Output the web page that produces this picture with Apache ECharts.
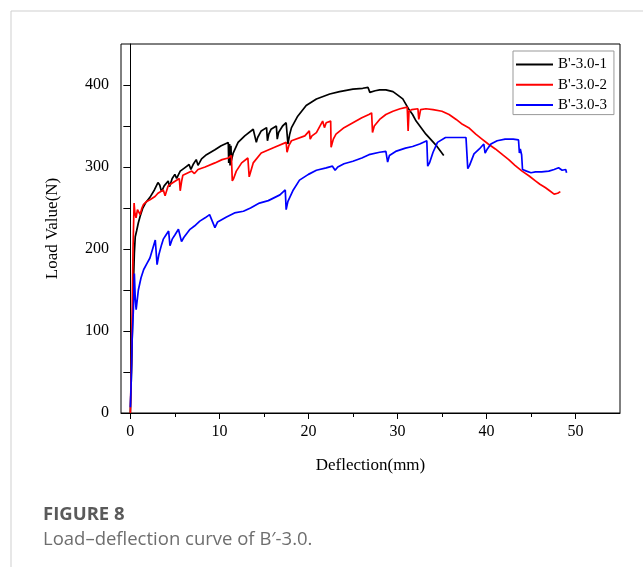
<!DOCTYPE html>
<html>
<head>
<meta charset="utf-8">
<script src="https://cdn.jsdelivr.net/npm/echarts@6/dist/echarts.min.js"></script>
<style>
  html, body { margin: 0; padding: 0; background: #fff; }
  #chart { width: 643px; height: 567px; }
</style>
</head>
<body>
<div id="chart"></div>
<script>
// series names
var seriesNames = ["B'-3.0-1", "B'-3.0-2", "B'-3.0-3"];

// [deflection (mm), load (N)]
var spec1 = [
  [0,0],[0.15,60],[0.3,140],[0.45,195],[0.55,215],[0.7,222],[0.9,232],[1.1,240],[1.4,250],[1.7,256],
  [2.2,263],[2.7,272],[3.1,281],[3.3,278],[3.5,270],[3.8,277],[4.25,283],[4.4,276],[4.7,286],[5.0,291],
  [5.2,286],[5.6,295],[6.1,299],[6.6,303],[6.8,297],[7.1,304],[7.4,309],[7.6,302],[8.0,310],[8.55,315],
  [9.5,321],[10.2,326],[11.0,330],[11.05,305],[11.15,328],[11.2,302],[11.3,326],[11.35,308],[11.55,317],[12.1,330],
  [12.85,338],[13.8,346],[14.15,330],[14.3,336],[14.7,344],[15.3,348],[15.4,332],[15.55,340],[15.8,346],[16.4,350],
  [16.5,334],[16.65,342],[17.1,350],[17.5,354],[17.7,328],[17.9,340],[18.1,348],[18.8,362],[19.75,375],[20.9,383],
  [22.4,389],[23.5,392],[25,395],[26.1,396],[26.7,397],[26.9,391],[27.1,390],[27.5,393],[28,394],[28.7,394],
  [29.5,392],[30.0,388],[30.6,383],[31.3,370],[31.7,364],[32.1,356],[33.2,340],[34.3,327],[35.2,314]
];
var spec2 = [
  [0,0],[0.1,50],[0.2,120],[0.3,200],[0.42,256],[0.5,245],[0.64,238],[0.8,248],[0.9,250],[1.1,242],
  [1.3,250],[1.46,254],[1.84,258],[2.2,260],[2.77,264],[3.1,268],[3.7,272],[3.9,265],[4.25,277],[4.8,281],
  [5.5,286],[5.6,271],[5.75,282],[5.9,290],[6.9,295],[7.2,292],[7.6,297],[8.4,300],[9.5,305],[10.3,309],
  [11,311],[11.35,314],[11.45,283],[11.6,286],[11.9,295],[12.5,305],[13.2,311],[13.35,288],[13.5,290],[13.8,305],
  [14.7,317],[16.2,324],[17.5,330],[17.6,318],[17.8,326],[18.1,332],[19.6,338],[20.1,344],[20.2,334],[20.4,338],
  [20.9,342],[21.4,352],[21.6,356],[21.8,348],[22,354],[22.5,356],[22.55,324],[22.8,334],[23.1,340],[24,348],
  [25,354],[26,360],[26.8,364],[27.1,366],[27.2,342],[27.4,350],[28,358],[28.7,364],[29.5,368],[30.3,371],
  [31.1,373],[31.2,344],[31.3,368],[31.6,370],[32.3,371],[32.4,358],[32.6,370],[33.2,371],[34,370],[35,368],
  [35.8,364],[36.6,358],[37.3,352],[38,348],[38.8,340],[39.5,334],[40.2,328],[41,322],[41.8,315],[42.5,309],
  [43.2,302],[44,295],[44.8,289],[45.5,283],[46,279],[46.6,275],[47.1,271],[47.6,267],[48,268],[48.3,270]
];
var spec3 = [
  [0,7],[0.1,40],[0.2,90],[0.34,126],[0.45,170],[0.55,140],[0.65,126],[0.9,150],[1.2,165],[1.5,175],
  [1.9,183],[2.2,189],[2.5,200],[2.8,211],[3.0,181],[3.2,193],[3.5,205],[3.7,212],[4.0,217],[4.3,222],
  [4.45,204],[4.7,212],[5.0,217],[5.4,224],[5.75,209],[6.0,214],[6.7,224],[7.2,228],[7.8,234],[8.4,238],
  [8.9,242],[9.1,240],[9.5,226],[9.8,233],[10.3,236],[10.8,239],[11.7,244],[12.7,246],[13.5,250],[14.5,256],
  [15.5,259],[16.8,266],[17.4,272],[17.5,248],[17.7,258],[18.3,272],[19,284],[20,291],[20.9,296],[22,299],
  [22.7,301],[23,296],[23.3,300],[24,304],[25,307],[26,311],[26.8,315],[28,318],[28.7,319],[28.9,306],
  [29.1,314],[29.8,319],[30.9,323],[31.7,325],[32.5,328],[33.3,332],[33.4,301],[33.6,305],[34,318],[34.5,330],
  [35.4,336],[36.5,336],[37.7,336],[37.9,298],[38.1,302],[38.6,316],[39.2,322],[39.7,328],[39.85,317],[40.1,322],
  [40.5,328],[41.2,332],[42.1,334],[43,334],[43.6,333],[43.7,317],[43.8,322],[43.95,315],[44.05,297],[44.5,295],
  [45,293],[45.5,294],[46.2,294],[47,295],[47.6,297],[48.1,299],[48.5,296],[48.9,297],[49,293]
];

// tick values
var xMajorTicks = [0, 10, 20, 30, 40, 50];
var xMinorTicks = [5, 15, 25, 35, 45];
var yTicks = [0, 50, 100, 150, 200, 250, 300, 350, 400];
var yLabels = [0, 100, 200, 300, 400];

var colors = ['#000000', '#ff0000', '#0000ff'];
var serif = '"Liberation Serif", "Times New Roman", serif';

var chart = echarts.init(document.getElementById('chart'));

function makeSeries(name, data, i) {
  return {
    name: name,
    type: 'line',
    data: data,
    symbol: 'none',
    showSymbol: false,
    animation: false,
    lineStyle: { width: 1.7, color: colors[i] },
    itemStyle: { color: colors[i] }
  };
}

chart.setOption({
  backgroundColor: '#fff',
  animation: false,
  grid: {
    left: 121,
    right: 23,
    top: 44,
    bottom: 154,
    show: true,
    borderColor: '#000',
    borderWidth: 1,
    outerBoundsMode: 'none'
  },
  legend: {
    orient: 'vertical',
    left: 513,
    top: 51,
    padding: [6, 7, 2, 3],
    icon: 'rect',
    itemWidth: 37,
    itemHeight: 2,
    itemGap: 5.3,
    borderColor: '#999',
    borderWidth: 1,
    data: seriesNames,
    textStyle: { fontFamily: serif, fontSize: 15, color: '#000' }
  },
  xAxis: [{
    type: 'value',
    min: -1.05,
    max: 55,
    name: 'Deflection(mm)',
    nameLocation: 'middle',
    nameGap: 44,
    nameTextStyle: { fontFamily: serif, fontSize: 17, color: '#000' },
    splitLine: { show: false },
    axisLine: { onZero: false, lineStyle: { color: '#000', width: 1 } },
    axisTick: { length: 6, customValues: xMajorTicks, lineStyle: { color: '#000' } },
    axisLabel: { customValues: xMajorTicks, margin: 11, fontFamily: serif, fontSize: 16, color: '#000' }
  }, {
    type: 'value',
    position: 'bottom',
    offset: 0,
    min: -1.05,
    max: 55,
    splitLine: { show: false },
    axisLine: { show: false },
    axisTick: { length: 4, customValues: xMinorTicks, lineStyle: { color: '#000' } },
    axisLabel: { show: false }
  }],
  yAxis: {
    type: 'value',
    min: 0,
    max: 450,
    name: 'Load Value(N)',
    nameLocation: 'middle',
    nameGap: 60,
    nameTextStyle: { fontFamily: serif, fontSize: 17, color: '#000' },
    splitLine: { show: false },
    axisLine: { show: true, lineStyle: { color: '#000', width: 1 } },
    axisTick: { show: true, length: 7, customValues: yTicks, lineStyle: { color: '#000' } },
    axisLabel: { customValues: yLabels, margin: 12, fontFamily: serif, fontSize: 16, color: '#000' }
  },
  series: [
    makeSeries(seriesNames[0], spec1, 0),
    makeSeries(seriesNames[1], spec2, 1),
    makeSeries(seriesNames[2], spec3, 2)
  ],
  graphic: [
    { type: 'line', shape: { x1: 11, y1: 11, x2: 643, y2: 11 }, style: { stroke: '#cfcfcf', lineWidth: 1 } },
    { type: 'line', shape: { x1: 11, y1: 11, x2: 11, y2: 567 }, style: { stroke: '#cfcfcf', lineWidth: 1 } },
    { type: 'text', left: 43, top: 505, style: { text: 'FIGURE 8', font: 'bold 18.5px "Open Sans", sans-serif', fill: '#5a5a5a' } },
    { type: 'text', left: 43, top: 530, style: { text: 'Load\u2013deflection curve of B\u2032-3.0.', font: '18.5px "Open Sans", sans-serif', fill: '#6e6e6e' } }
  ]
});
</script>
</body>
</html>
